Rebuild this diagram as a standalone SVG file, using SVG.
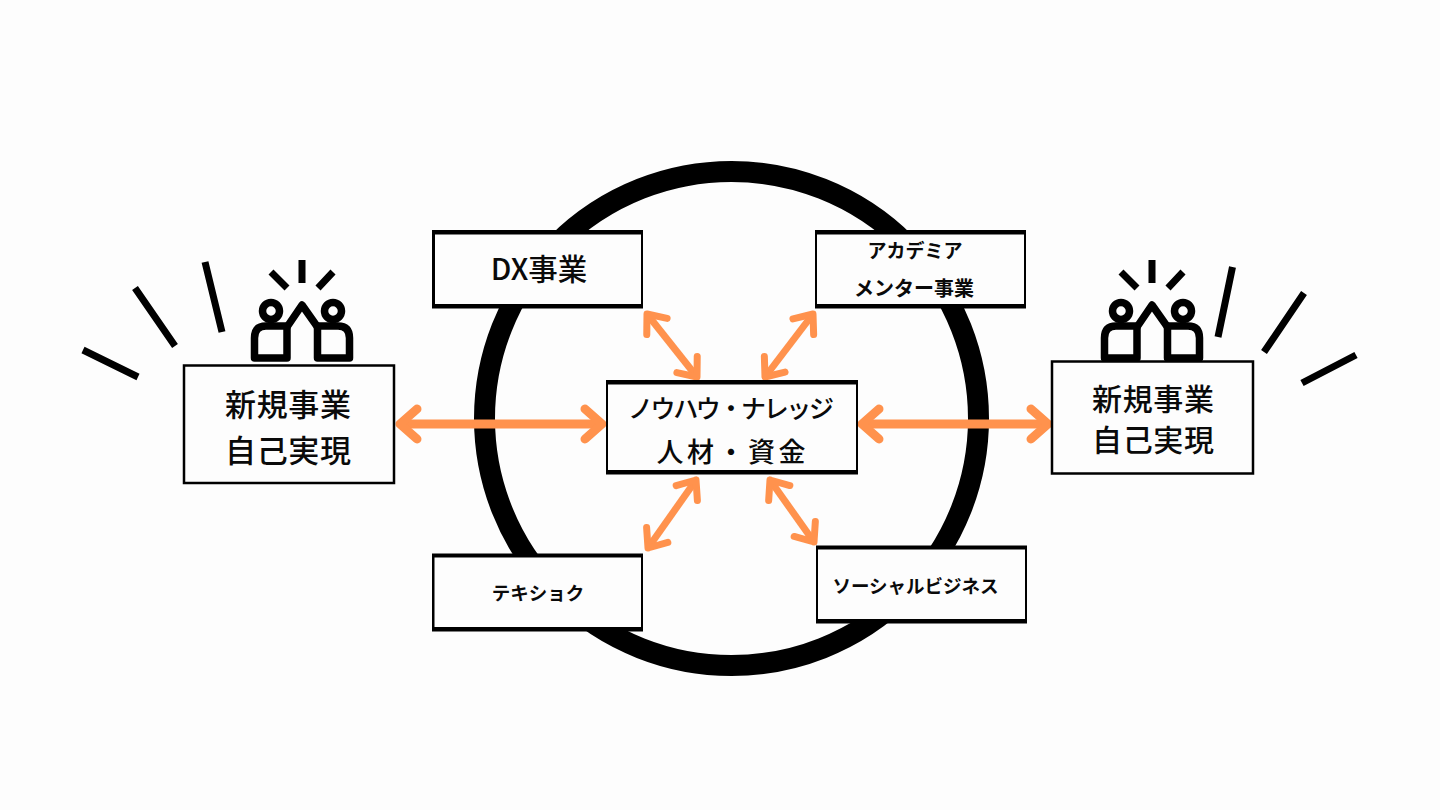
<svg xmlns="http://www.w3.org/2000/svg" width="1440" height="810" viewBox="0 0 1440 810">
<style>
text{font-family:"Noto Sans CJK JP","Noto Sans",sans-serif;font-weight:500;fill:#0a0a0a;text-anchor:middle}
.small{font-weight:700}
.box{fill:#fdfdfd;stroke:#000}
.edge{fill:#000}
.inner{fill:#fdfdfd}
.ray{stroke:#000;stroke-width:7;fill:none}
.arrow{stroke:#ff924d;fill:none}
.thick{stroke-width:9}
.thin{stroke-width:7}
.fig{fill:none;stroke:#000;stroke-width:7.500;stroke-linejoin:round}
</style>
<defs>
<marker id="headL" markerUnits="userSpaceOnUse" markerWidth="50" markerHeight="50" refX="25" refY="25" orient="auto-start-reverse" overflow="visible"><path d="M25 25 L8 10 M25 25 L8 40" stroke="#ff924d" stroke-width="9" stroke-linecap="round" fill="none"/></marker>
<marker id="headS" markerUnits="userSpaceOnUse" markerWidth="40" markerHeight="40" refX="20" refY="20" orient="auto-start-reverse" overflow="visible"><path d="M20 20 L4 7 M20 20 L4 33" stroke="#ff924d" stroke-width="7" stroke-linecap="round" fill="none"/></marker>
<g id="people">
<circle cx="271" cy="311" r="8.5" class="fig"/>
<circle cx="333" cy="311" r="8.5" class="fig"/>
<path class="fig" d="M287 358 V326 H266 Q254.500 326 254.500 338 V358 Z"/>
<path class="fig" d="M317.500 358 V326 H338 Q349.500 326 349.500 338 V358 Z"/>
<path class="fig" d="M287 327 L302 305 L317.500 327"/>
<path class="ray" d="M302 260 V283 M271 272 L287 288 M333 272 L318 288"/>
</g>
</defs>
<rect width="1440" height="810" fill="#fdfdfd"/>
<circle cx="731.500" cy="418.500" r="247" fill="none" stroke="#000" stroke-width="21"/>
<g id="rays-left"><path class="ray" d="M205 262 L222 332 M135 288 L175 346 M83 350 L138 377"/></g>
<g id="rays-right"><path class="ray" d="M1232.500 267 L1218 337 M1304 293 L1264 352 M1356 355 L1302 383"/></g>
<g id="connectors">
<line class="arrow thick" x1="400" y1="424" x2="602" y2="424" marker-start="url(#headL)" marker-end="url(#headL)"/>
<line class="arrow thick" x1="862" y1="424" x2="1048" y2="424" marker-start="url(#headL)" marker-end="url(#headL)"/>
<line class="arrow thin" x1="647" y1="314" x2="697" y2="377" marker-start="url(#headS)" marker-end="url(#headS)"/>
<line class="arrow thin" x1="813" y1="314" x2="765" y2="377" marker-start="url(#headS)" marker-end="url(#headS)"/>
<line class="arrow thin" x1="696" y1="480" x2="648" y2="548" marker-start="url(#headS)" marker-end="url(#headS)"/>
<line class="arrow thin" x1="770" y1="480" x2="814" y2="542" marker-start="url(#headS)" marker-end="url(#headS)"/>
</g>
<g id="node-left">
<use href="#people"/>
<rect class="box" x="184" y="365.500" width="210" height="117.500" stroke-width="2.500"/>
<text x="288" y="416" font-size="31" textLength="126">新規事業</text>
<text x="288" y="462" font-size="31" textLength="126">自己実現</text>
</g>
<g id="node-right">
<use href="#people" x="850"/>
<rect class="box" x="1052" y="361.500" width="201" height="112" stroke-width="2.500"/>
<text x="1153" y="410" font-size="30" textLength="122">新規事業</text>
<text x="1153" y="451" font-size="30" textLength="122">自己実現</text>
</g>
<g id="node-dx">
<rect class="edge" x="432" y="230" width="211" height="78.500"/>
<rect class="inner" x="435" y="234.500" width="206" height="69.500"/>
<text x="539" y="280" font-size="29.500">DX事業</text>
</g>
<g id="node-academia">
<rect class="edge" x="815" y="230" width="211" height="78.500"/>
<rect class="inner" x="817" y="234.500" width="207" height="69.500"/>
<text class="small" x="915" y="258" font-size="19">アカデミア</text>
<text class="small" x="914" y="296" font-size="20">メンター事業</text>
</g>
<g id="node-center">
<rect class="edge" x="606" y="380" width="252" height="94.500"/>
<rect class="inner" x="608" y="384.500" width="248" height="85.500"/>
<text x="731" y="418" font-size="25" textLength="206">ノウハウ・ナレッジ</text>
<text x="731" y="462" font-size="27" textLength="149">人材・資金</text>
</g>
<g id="node-teki">
<rect class="edge" x="432" y="553.500" width="211" height="78"/>
<rect class="inner" x="434.500" y="557.500" width="206.500" height="69.500"/>
<text class="small" x="538" y="600" font-size="18.500">テキショク</text>
</g>
<g id="node-social">
<rect class="edge" x="816" y="545.500" width="211" height="78"/>
<rect class="inner" x="818" y="549.500" width="207" height="69.500"/>
<text class="small" x="915.500" y="593" font-size="18.500">ソーシャルビジネス</text>
</g>
</svg>
